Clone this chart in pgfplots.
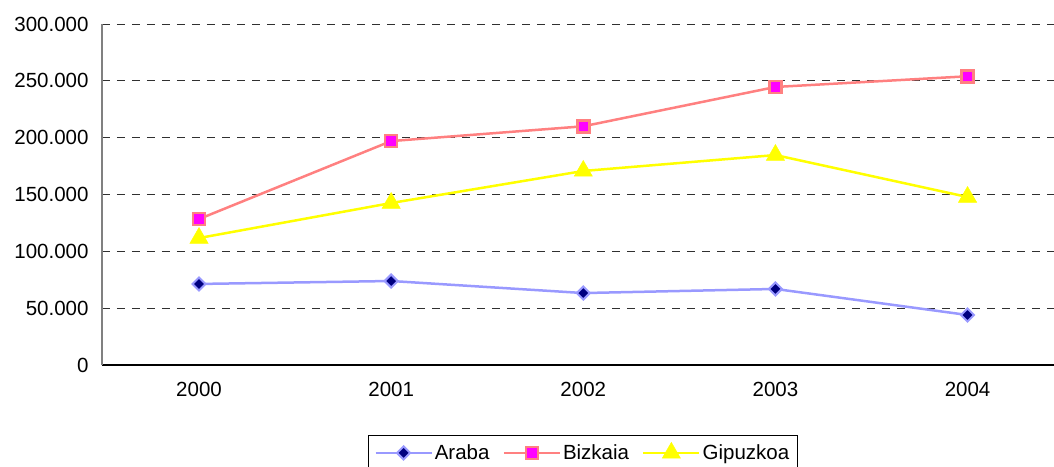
\documentclass[border=0pt]{standalone}
\usepackage{pgfplots}
\pgfplotsset{compat=1.18}
\usepackage{fontspec}
\setmainfont{Liberation Sans}
\definecolor{arabaline}{HTML}{9999FF}
\definecolor{arabafill}{HTML}{000080}
\definecolor{bizline}{HTML}{FF8080}
\definecolor{bizfill}{HTML}{FF00FF}
\definecolor{gipline}{HTML}{FFFF00}
\definecolor{gridc}{HTML}{303030}
\begin{document}
\begin{tikzpicture}
\begin{axis}[
  scale only axis,
  width=952pt, height=341pt,
  xmin=-0.505, xmax=4.45,
  ymin=0, ymax=300000,
  scaled y ticks=false,
  xtick={0,1,2,3,4},
  xticklabels={2000,2001,2002,2003,2004},
  ytick={0,50000,100000,150000,200000,250000,300000},
  yticklabels={0,50.000,100.000,150.000,200.000,250.000,300.000},
  major tick length=0pt,
  axis x line*=bottom,
  axis y line*=left,
  x axis line style={black, line width=1.2pt, -},
  y axis line style={gray, line width=1.2pt, -},
  ymajorgrids,
  major grid style={gridc, line width=1pt, dash pattern=on 8pt off 7pt},
  tick label style={font=\fontsize{20.5}{24}\selectfont},
  yticklabel style={xshift=-10pt},
  xticklabel style={yshift=-14pt},
  clip=false,
  legend style={at={(0.505,-0.205)}, anchor=north, draw=black, line width=1pt,
    font=\fontsize{20.5}{24}\selectfont, legend columns=-1,
    /tikz/every even column/.append style={column sep=11pt},
    /tikz/every odd column/.append style={column sep=0pt},
    inner ysep=7pt, inner xsep=6pt},
  legend image code/.code={%
    \draw[mark repeat=2,mark phase=2] plot coordinates {(0pt,0pt) (28pt,0pt) (56pt,0pt)};},
]
\addplot[arabaline, line width=2.5pt, mark=square*, mark size=4.6pt,
  mark options={fill=arabafill, draw=arabaline, line width=2pt, solid, rotate=45}]
  coordinates {(0,71300) (1,73900) (2,63300) (3,66900) (4,44000)};
\addlegendentry{Araba}
\addplot[bizline, line width=2.5pt, mark=square*, mark size=6pt,
  mark options={fill=bizfill, draw=bizline, line width=2.5pt, solid}]
  coordinates {(0,128400) (1,197000) (2,210000) (3,244600) (4,254000)};
\addlegendentry{Bizkaia}
\addplot[gipline, line width=2.5pt, mark=triangle*, mark size=10.5pt,
  mark options={fill=gipline, draw=gipline, line width=0.5pt, solid}]
  coordinates {(0,111700) (1,142500) (2,170700) (3,184700) (4,147800)};
\addlegendentry{Gipuzkoa}
\end{axis}
\pgfresetboundingbox
\useasboundingbox (-102pt,-101pt) rectangle (952pt,365pt);
\end{tikzpicture}
\end{document}
